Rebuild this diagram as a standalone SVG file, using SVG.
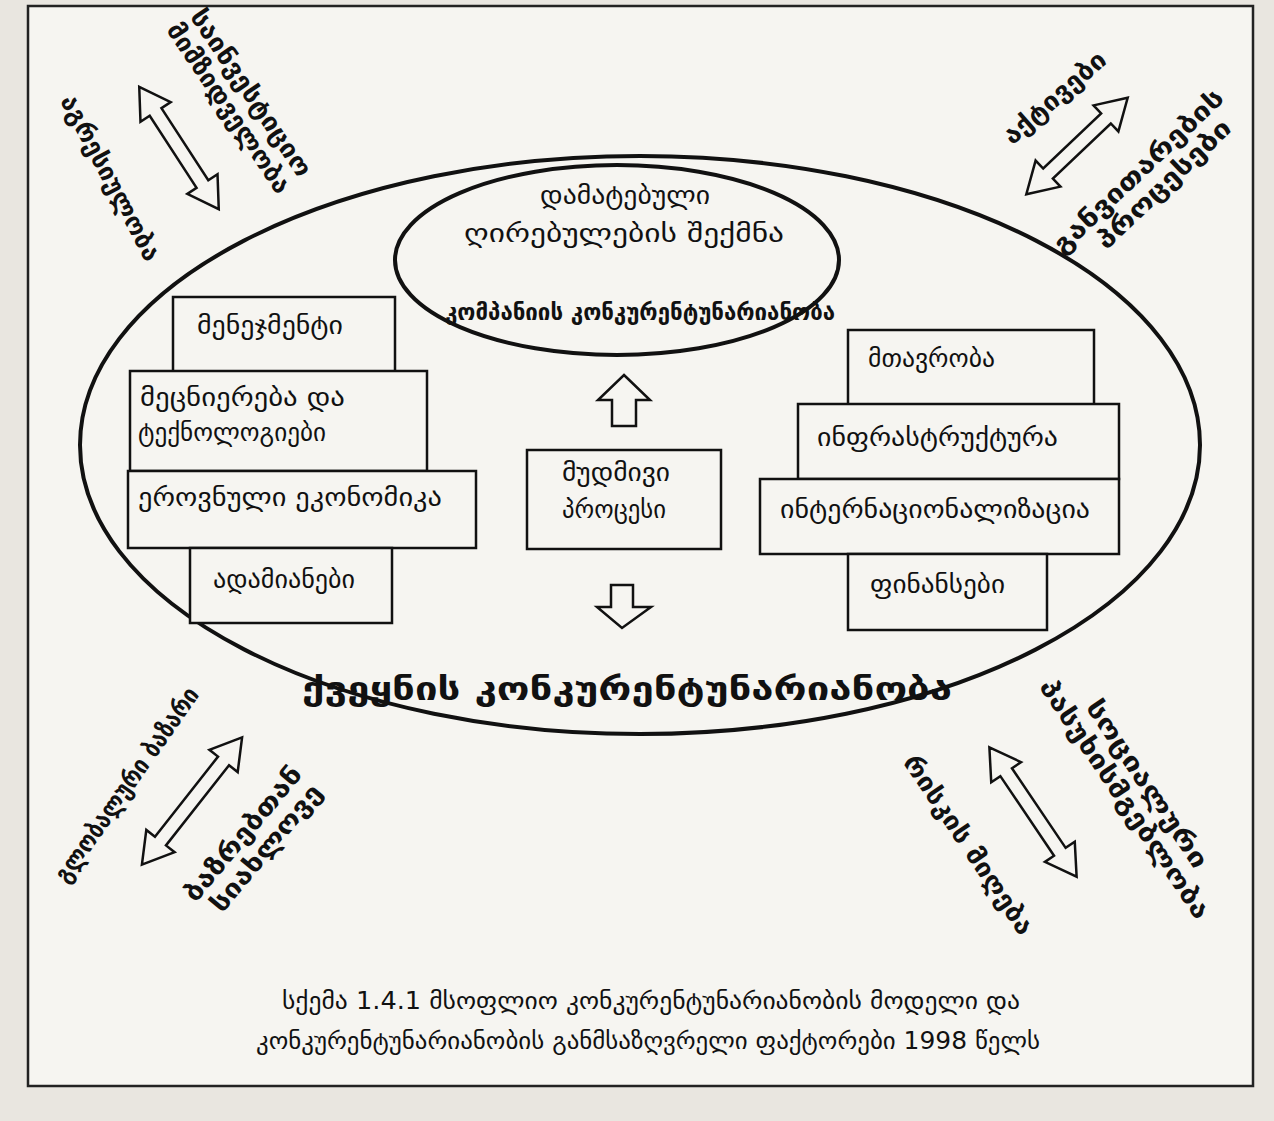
<svg xmlns="http://www.w3.org/2000/svg" width="1274" height="1121" viewBox="0 0 1274 1121">
<style>
.t{font-family:"DejaVu Sans","Noto Sans",sans-serif;fill:#111;font-size:25px}
.b{font-weight:bold}
.box{fill:#f6f5f1;stroke:#111;stroke-width:2.5}
.arr{fill:#f6f5f1;stroke:#111;stroke-width:2.5;stroke-linejoin:miter}
.ell{fill:none;stroke:#111;stroke-width:4}
.d{font-family:"DejaVu Sans","Noto Sans",sans-serif;fill:#111;font-size:25px;font-weight:bold;text-anchor:middle}
.m{text-anchor:middle}
</style>
<rect x="0" y="0" width="1274" height="1121" fill="#e9e6e0"/>
<rect x="28" y="6" width="1225" height="1080" fill="#f6f5f1" stroke="#222" stroke-width="2.5"/>

<g id="outer-ellipse"><ellipse class="ell" cx="640" cy="445" rx="560" ry="289"/></g>

<g id="node-value">
<ellipse class="ell" cx="617" cy="260" rx="222" ry="95"/>
<text class="t m" x="625" y="204" textLength="170" lengthAdjust="spacingAndGlyphs">დამატებული</text>
<text class="t m" x="624" y="242" textLength="320" lengthAdjust="spacingAndGlyphs">ღირებულების  შექმნა</text>
<text class="t m b" x="640" y="320" style="font-size:23px" textLength="390" lengthAdjust="spacingAndGlyphs">კომპანიის  კონკურენტუნარიანობა</text>
</g>

<g id="node-management"><rect class="box" x="173" y="297" width="222" height="75"/><text class="t" x="197" y="334" textLength="146" lengthAdjust="spacingAndGlyphs">მენეჯმენტი</text></g>
<g id="node-science"><rect class="box" x="130" y="371" width="297" height="100"/><text class="t" x="140" y="406" textLength="205" lengthAdjust="spacingAndGlyphs">მეცნიერება  და</text><text class="t" x="138" y="441" textLength="188" lengthAdjust="spacingAndGlyphs">ტექნოლოგიები</text></g>
<g id="node-economy"><rect class="box" x="128" y="471" width="348" height="77"/><text class="t" x="138" y="506" textLength="304" lengthAdjust="spacingAndGlyphs">ეროვნული  ეკონომიკა</text></g>
<g id="node-people"><rect class="box" x="190" y="548" width="202" height="75"/><text class="t" x="213" y="588" textLength="142" lengthAdjust="spacingAndGlyphs">ადამიანები</text></g>

<g id="node-process"><rect class="box" x="527" y="450" width="194" height="99"/><text class="t m" x="616" y="481" textLength="108" lengthAdjust="spacingAndGlyphs">მუდმივი</text><text class="t m" x="614" y="518" textLength="104" lengthAdjust="spacingAndGlyphs">პროცესი</text></g>

<g id="node-government"><rect class="box" x="848" y="330" width="246" height="75"/><text class="t" x="868" y="367" textLength="127" lengthAdjust="spacingAndGlyphs">მთავრობა</text></g>
<g id="node-infrastructure"><rect class="box" x="798" y="404" width="321" height="75"/><text class="t" x="817" y="446" textLength="241" lengthAdjust="spacingAndGlyphs">ინფრასტრუქტურა</text></g>
<g id="node-internationalization"><rect class="box" x="760" y="479" width="359" height="75"/><text class="t" x="780" y="518" textLength="310" lengthAdjust="spacingAndGlyphs">ინტერნაციონალიზაცია</text></g>
<g id="node-finance"><rect class="box" x="848" y="554" width="199" height="76"/><text class="t" x="870" y="593" textLength="135" lengthAdjust="spacingAndGlyphs">ფინანსები</text></g>

<g id="node-country"><text class="t m b" x="627" y="700" style="font-size:32px" textLength="650" lengthAdjust="spacingAndGlyphs">ქვეყნის  კონკურენტუნარიანობა</text></g>

<g id="connectors">
<path class="arr" d="M624,375 L650,400 L636,400 L636,426 L612,426 L612,400 L598,400 Z"/>
<path class="arr" d="M611,585 L633,585 L633,607 L651,607 L622,628 L597,607 L611,607 Z"/>
<g transform="translate(179,148) rotate(57)"><path class="arr" d="M-73,0 L-43,-18 L-43,-7 L43,-7 L43,-18 L73,0 L43,18 L43,7 L-43,7 L-43,18 Z"/></g>
<g transform="translate(1077,146) rotate(-43.6)"><path class="arr" d="M-70,0 L-40,-18 L-40,-7 L40,-7 L40,-18 L70,0 L40,18 L40,7 L-40,7 L-40,18 Z"/></g>
<g transform="translate(192,801) rotate(-51.8)"><path class="arr" d="M-81,0 L-51,-18 L-51,-7 L51,-7 L51,-18 L81,0 L51,18 L51,7 L-51,7 L-51,18 Z"/></g>
<g transform="translate(1033,812) rotate(56)"><path class="arr" d="M-78,0 L-48,-18 L-48,-7 L48,-7 L48,-18 L78,0 L48,18 L48,7 L-48,7 L-48,18 Z"/></g>
</g>

<g id="label-aggressiveness"><text class="d" transform="translate(110,178) rotate(62)" y="8" textLength="184" lengthAdjust="spacingAndGlyphs">აგრესიულობა</text></g>
<g id="label-attractiveness"><text class="d" transform="translate(239,101) rotate(56)"><tspan x="0" y="-6" textLength="196" lengthAdjust="spacingAndGlyphs">საინვესტიციო</tspan><tspan x="0" y="21" textLength="200" lengthAdjust="spacingAndGlyphs">მიმზიდველობა</tspan></text></g>
<g id="label-assets"><text class="d" transform="translate(1055,98) rotate(-41)" y="8" textLength="127" lengthAdjust="spacingAndGlyphs">აქტივები</text></g>
<g id="label-processes"><text class="d" transform="translate(1148,182) rotate(-43.6)"><tspan x="0" y="-6" textLength="225" lengthAdjust="spacingAndGlyphs">განვითარების</tspan><tspan x="10" y="21" textLength="175" lengthAdjust="spacingAndGlyphs">პროცესები</tspan></text></g>
<g id="label-global"><text class="d" transform="translate(127,785) rotate(-55)" y="8" textLength="232" lengthAdjust="spacingAndGlyphs">გლობალური ბაზარი</text></g>
<g id="label-proximity"><text class="d" transform="translate(254,843) rotate(-50)"><tspan x="0" y="-6" textLength="168" lengthAdjust="spacingAndGlyphs">ბაზრებთან</tspan><tspan x="4" y="21" textLength="158" lengthAdjust="spacingAndGlyphs">სიახლოვე</tspan></text></g>
<g id="label-risk"><text class="d" transform="translate(968,845) rotate(56)" y="8" textLength="211" lengthAdjust="spacingAndGlyphs">რისკის  მიღება</text></g>
<g id="label-social"><text class="d" transform="translate(1135,792) rotate(56)"><tspan x="0" y="-6" textLength="197" lengthAdjust="spacingAndGlyphs">სოციალური</tspan><tspan x="0" y="21" textLength="283" lengthAdjust="spacingAndGlyphs">პასუხისმგებლობა</tspan></text></g>

<g id="caption">
<text class="t m" x="651" y="1009" style="font-size:24px" textLength="738" lengthAdjust="spacingAndGlyphs">სქემა 1.4.1 მსოფლიო კონკურენტუნარიანობის მოდელი და</text>
<text class="t m" x="648" y="1049" style="font-size:24px" textLength="784" lengthAdjust="spacingAndGlyphs">კონკურენტუნარიანობის განმსაზღვრელი ფაქტორები 1998 წელს</text>
</g>
</svg>
